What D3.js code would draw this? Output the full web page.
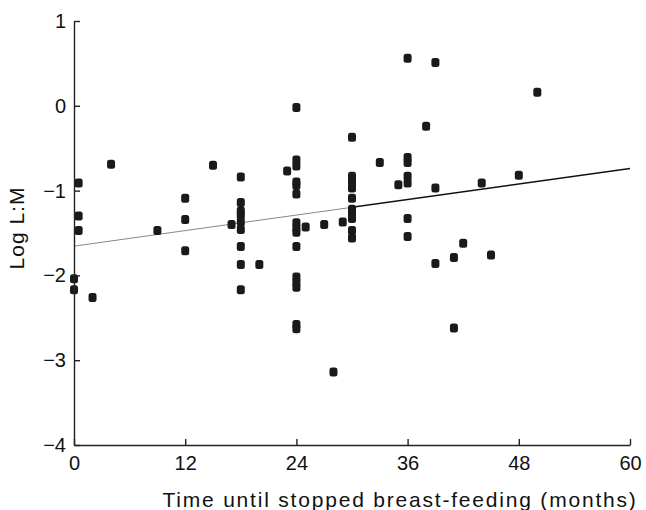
<!DOCTYPE html>
<html lang="en">
<head>
  <meta charset="UTF-8">
  <title>Log L:M vs breast-feeding</title>
  <style>
    body {
      margin: 0;
      background: #fff;
    }
    svg text {
      font-family: "Liberation Sans", Arial, sans-serif;
      fill: #111;
    }
    .axis path, .axis line {
      stroke: #222;
      stroke-width: 1.4;
    }
  </style>
</head>
<body>
  <svg></svg>
<script src="https://cdn.jsdelivr.net/npm/d3@7"></script>
<script>
  var width = 646
  var height = 510

  // months until stopped breast-feeding
  var months = [
    0.5, 0.5, 0.5, 0, 0, 2, 4, 9,
    12, 12, 12, 15,
    17, 18, 18, 18, 18, 18, 18, 18, 18, 18, 20,
    23, 24, 24, 24, 24, 24, 24, 24, 24, 24, 24, 24, 24, 24, 24, 24,
    25, 27, 28, 29,
    30, 30, 30, 30, 30, 30, 30, 30, 30, 30,
    33, 35,
    36, 36, 36, 36, 36, 36, 36,
    38, 39, 39, 39,
    41, 41, 42, 44, 45, 48, 50
  ]
  // log lactulose:mannitol ratio
  var logLM = [
    -0.91, -1.30, -1.47, -2.04, -2.17, -2.26, -0.69, -1.47,
    -1.09, -1.34, -1.71, -0.70,
    -1.40, -0.84, -1.14, -1.24, -1.29, -1.37, -1.46, -1.66, -1.87, -2.17, -1.87,
    -0.77, -0.02, -0.64, -0.71, -0.90, -0.94, -1.04, -1.38, -1.44, -1.49, -1.66, -2.02, -2.08, -2.14, -2.58, -2.63,
    -1.43, -1.40, -3.14, -1.37,
    -0.37, -0.83, -0.90, -0.97, -1.09, -1.22, -1.27, -1.33, -1.47, -1.56,
    -0.67, -0.93,
    0.56, -0.61, -0.67, -0.83, -0.91, -1.33, -1.54,
    -0.24, 0.51, -0.97, -1.86,
    -1.79, -2.62, -1.62, -0.91, -1.76, -0.82, 0.16
  ]
  // fitted line
  var fitX = [0, 30, 60]
  var fitY = [-1.655, -1.197, -0.74]

  var xTicks = [0, 12, 24, 36, 48, 60]
  var yTicks = [-4, -3, -2, -1, 0, 1]

  var x = d3.scaleLinear().domain([0, 60]).range([74, 630])
  var y = d3.scaleLinear().domain([-4, 1]).range([445, 21])

  var svg = d3.select('svg')
    .attr('width', width)
    .attr('height', height)

  // regression line, light on the left half, dark on the right
  svg.append('line')
    .attr('x1', x(fitX[0])).attr('y1', y(fitY[0]))
    .attr('x2', x(fitX[1])).attr('y2', y(fitY[1]))
    .attr('stroke', '#888').attr('stroke-width', 1)
  svg.append('line')
    .attr('x1', x(fitX[1])).attr('y1', y(fitY[1]))
    .attr('x2', x(fitX[2])).attr('y2', y(fitY[2]))
    .attr('stroke', '#111').attr('stroke-width', 1.5)

  var pts = months.map((m, i) => [m, logLM[i]])

  svg.selectAll('rect.pt')
    .data(pts)
    .enter()
    .append('rect')
    .attr('class', 'pt')
    .attr('x', d => x(d[0]) - 4)
    .attr('y', d => y(d[1]) - 4.5)
    .attr('width', 8)
    .attr('height', 9)
    .attr('rx', 2.5)
    .attr('fill', '#1a1a1a')

  var xAxis = svg.append('g')
    .attr('class', 'axis')
    .attr('transform', 'translate(0,445)')
    .call(d3.axisBottom(x).tickValues(xTicks).tickFormat(d3.format('d'))
      .tickSizeInner(-6).tickSizeOuter(0).tickPadding(11))
  xAxis.selectAll('text').attr('font-size', 20).attr('fill', '#111')

  var yAxis = svg.append('g')
    .attr('class', 'axis')
    .attr('transform', 'translate(74,0)')
    .call(d3.axisLeft(y).tickValues(yTicks).tickFormat(d3.format('d'))
      .tickSizeInner(-6).tickSizeOuter(0).tickPadding(8))
  yAxis.selectAll('text').attr('font-size', 20).attr('fill', '#111')

  svg.append('text')
    .attr('x', 400)
    .attr('y', 507)
    .attr('text-anchor', 'middle')
    .attr('font-size', 21)
    .attr('letter-spacing', 1.8)
    .text('Time until stopped breast-feeding (months)')

  svg.append('text')
    .attr('transform', 'translate(24,228) rotate(-90)')
    .attr('text-anchor', 'middle')
    .attr('font-size', 21)
    .attr('letter-spacing', 1)
    .text('Log L:M')
</script>
</body>
</html>
